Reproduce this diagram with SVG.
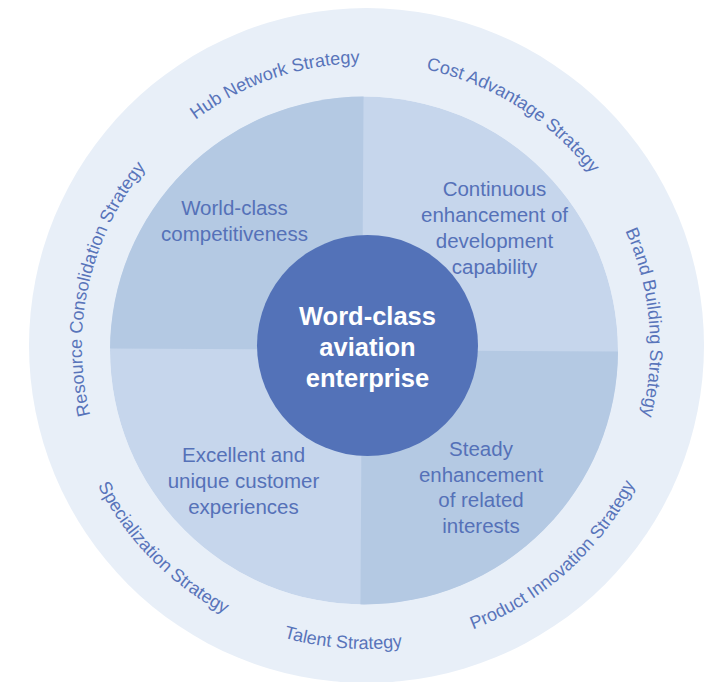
<svg xmlns="http://www.w3.org/2000/svg" xmlns:xlink="http://www.w3.org/1999/xlink" width="722" height="682" viewBox="0 0 722 682">
  <style>
    .ring { font-family: "Liberation Sans", Arial, sans-serif; font-size: 18px; fill: #5874ba; }
    .quad { font-family: "Liberation Sans", Arial, sans-serif; font-size: 20.5px; fill: #5571b8; text-anchor: middle; }
    .core { font-family: "Liberation Sans", Arial, sans-serif; font-size: 25.5px; font-weight: bold; fill: #ffffff; text-anchor: middle; }
  </style>
  <defs>
    <path id="cw" d="M366,631 A284,284 0 1,1 366,63 A284,284 0 1,1 366,631"/>
    <path id="ccw" d="M64,347 A302,302 0 1,0 668,347 A302,302 0 1,0 64,347"/>
    <clipPath id="disk">
      <circle cx="364" cy="350.5" r="254"/>
    </clipPath>
  </defs>

  <rect width="722" height="682" fill="#ffffff"/>

  <g id="outer-ring">
    <circle cx="366.5" cy="345.5" r="337.5" fill="#e8eff8"/>
  </g>

  <g id="quadrants" clip-path="url(#disk)">
    <circle cx="364" cy="350.5" r="254" fill="#c6d6ec"/>
    <g transform="rotate(0.35 362 350)">
      <rect id="q-tl-bg" x="100" y="90" width="262" height="260" fill="#b4c9e3"/>
      <rect id="q-br-bg" x="362" y="350" width="270" height="270" fill="#b4c9e3"/>
    </g>
  </g>

  <g id="q-top-left">
    <text class="quad"><tspan x="234.5" y="215">World-class</tspan><tspan x="234.5" y="241">competitiveness</tspan></text>
  </g>
  <g id="q-top-right">
    <text class="quad"><tspan x="494.5" y="196">Continuous</tspan><tspan x="494.5" y="222">enhancement of</tspan><tspan x="494.5" y="247.5">development</tspan><tspan x="494.5" y="273.5">capability</tspan></text>
  </g>
  <g id="q-bottom-left">
    <text class="quad"><tspan x="243.5" y="462">Excellent and</tspan><tspan x="243.5" y="488">unique customer</tspan><tspan x="243.5" y="513.5">experiences</tspan></text>
  </g>
  <g id="q-bottom-right">
    <text class="quad"><tspan x="481" y="456">Steady</tspan><tspan x="481" y="481.5">enhancement</tspan><tspan x="481" y="507">of related</tspan><tspan x="481" y="532.5">interests</tspan></text>
  </g>

  <g id="core">
    <circle cx="367.5" cy="345.5" r="110.5" fill="#5372b8"/>
    <text class="core"><tspan x="367.5" y="325">Word-class</tspan><tspan x="367.5" y="356">aviation</tspan><tspan x="367.5" y="387">enterprise</tspan></text>
  </g>

  <g id="s-resource"><text class="ring" text-anchor="middle"><textPath xlink:href="#cw" href="#cw" startOffset="508.6">Resource Consolidation Strategy</textPath></text></g>
  <g id="s-hub"><text class="ring" text-anchor="middle"><textPath xlink:href="#cw" href="#cw" startOffset="797.5">Hub Network Strategy</textPath></text></g>
  <g id="s-cost"><text class="ring" text-anchor="middle"><textPath xlink:href="#cw" href="#cw" startOffset="1052.3">Cost Advantage Strategy</textPath></text></g>
  <g id="s-brand"><text class="ring" text-anchor="middle"><textPath xlink:href="#cw" href="#cw" startOffset="1313">Brand Building Strategy</textPath></text></g>
  <g id="s-specialization"><text class="ring" text-anchor="middle"><textPath xlink:href="#ccw" href="#ccw" startOffset="235.6">Specialization Strategy</textPath></text></g>
  <g id="s-talent"><text class="ring" text-anchor="middle"><textPath xlink:href="#ccw" href="#ccw" startOffset="450.7">Talent Strategy</textPath></text></g>
  <g id="s-product"><text class="ring" text-anchor="middle"><textPath xlink:href="#ccw" href="#ccw" startOffset="694.7">Product Innovation Strategy</textPath></text></g>
</svg>
